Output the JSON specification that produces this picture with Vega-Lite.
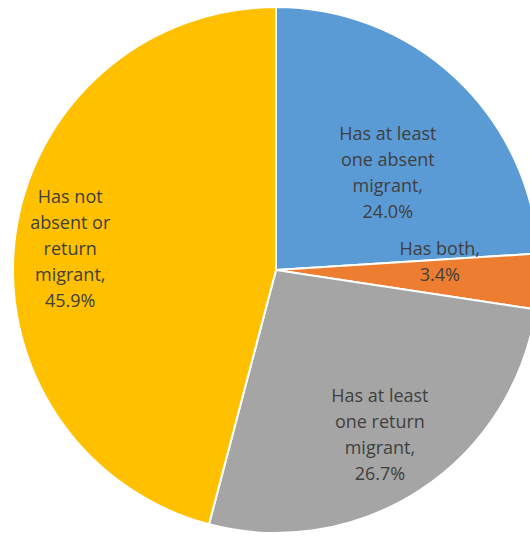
{
  "$schema": "https://vega.github.io/schema/vega-lite/v6.json",
  "width": 530,
  "height": 536,
  "autosize": {"type": "fit", "contains": "padding"},
  "padding": {"left": 22, "right": 0, "top": 4, "bottom": 0},
  "background": "white",
  "view": {"stroke": null},
  "data": {"values": [
    {"rank": 1, "category": "Has at least one absent migrant", "share": 24.0, "label": "Has at least\none absent\nmigrant,\n24.0%"},
    {"rank": 2, "category": "Has both", "share": 3.4, "label": "Has both,\n3.4%"},
    {"rank": 3, "category": "Has at least one return migrant", "share": 26.7, "label": "Has at least\none return\nmigrant,\n26.7%"},
    {"rank": 4, "category": "Has not absent or return migrant", "share": 45.9, "label": "Has not\nabsent or\nreturn\nmigrant,\n45.9%"}
  ]},
  "encoding": {
    "theta": {"field": "share", "type": "quantitative", "stack": true},
    "order": {"field": "rank", "type": "quantitative", "sort": "ascending"},
    "color": {
      "field": "category", "type": "nominal",
      "scale": {
        "domain": ["Has at least one absent migrant", "Has both", "Has at least one return migrant", "Has not absent or return migrant"],
        "range": ["#5B9BD5", "#ED7D31", "#A5A5A5", "#FFC000"]
      },
      "legend": null
    }
  },
  "layer": [
    {"mark": {"type": "arc", "outerRadius": 263, "stroke": "white", "strokeWidth": 2}},
    {
      "mark": {"type": "text", "radius": 175, "thetaOffset": -0.061, "font": "Open Sans", "fontSize": 18, "lineBreak": "\n", "lineHeight": 26, "fill": "#404040", "align": "center", "baseline": "middle"},
      "encoding": {"text": {"condition": {"test": "datum.category === 'Has at least one absent migrant'", "field": "label"}, "value": ""}, "color": {"value": "#404040"}}
    },
    {
      "mark": {"type": "text", "radius": 165, "thetaOffset": -0.166, "font": "Open Sans", "fontSize": 18, "lineBreak": "\n", "lineHeight": 26, "fill": "#404040", "align": "center", "baseline": "middle"},
      "encoding": {"text": {"condition": {"test": "datum.category === 'Has both'", "field": "label"}, "value": ""}, "color": {"value": "#404040"}}
    },
    {
      "mark": {"type": "text", "radius": 164, "thetaOffset": -0.105, "font": "Open Sans", "fontSize": 18, "lineBreak": "\n", "lineHeight": 26, "fill": "#404040", "align": "center", "baseline": "middle"},
      "encoding": {"text": {"condition": {"test": "datum.category === 'Has at least one return migrant'", "field": "label"}, "value": ""}, "color": {"value": "#404040"}}
    },
    {
      "mark": {"type": "text", "radius": 218, "thetaOffset": 0.208, "font": "Open Sans", "fontSize": 18, "lineBreak": "\n", "lineHeight": 26, "fill": "#404040", "align": "center", "baseline": "middle"},
      "encoding": {"text": {"condition": {"test": "datum.category === 'Has not absent or return migrant'", "field": "label"}, "value": ""}, "color": {"value": "#404040"}}
    }
  ]
}
